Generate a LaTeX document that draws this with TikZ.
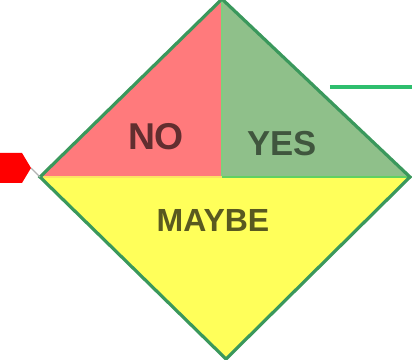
\documentclass[tikz,border=0pt]{standalone}
\usepackage{fontspec}
\setmainfont{Liberation Sans}
\begin{document}
\begin{tikzpicture}[x=0.75pt,y=-0.75pt,
  lbl/.style={font=\bfseries, inner sep=0pt, anchor=center}]
\useasboundingbox (0,0) rectangle (412,360);
\definecolor{nored}{RGB}{255,122,124}
\definecolor{yesgreen}{RGB}{143,192,138}
\definecolor{maybeyel}{RGB}{255,255,90}
\definecolor{edgegreen}{RGB}{58,152,92}
\definecolor{linegreen}{RGB}{46,190,110}
\coordinate (T) at (222,-1);
\coordinate (R) at (410,177);
\coordinate (B) at (226,359);
\coordinate (L) at (40,177);
\coordinate (C) at (222,177);
% regions
\fill[nored] (L) -- (T) -- (C) -- cycle;
\fill[yesgreen] (T) -- (R) -- (C) -- cycle;
\fill[maybeyel] (L) -- (R) -- (B) -- cycle;
\draw[line width=1.5pt, green!45!gray!70!white] (T) -- (C);
\draw[line width=1pt, yellow!70!orange!60!white] (L) -- (C);
\draw[line width=1pt, green!55!gray!80!white] (C) -- (R);
% outline
\draw[edgegreen, line width=2.4pt, line join=miter] (T) -- (R) -- (B) -- (L) -- cycle;
% incoming arrow
\coordinate (A1) at (31,168);
\draw[gray!60, line width=1pt] (A1) -- (L);
\fill[red] (0,153) -- (22,153) -- (A1) -- (22,183) -- (0,183) -- cycle;
% outgoing line
\coordinate (G0) at (330,87);
\coordinate (G1) at (412,87);
\draw[linegreen, line width=3pt] (G0) -- (G1);
% labels
\node[lbl, text=nored!38!black, font=\bfseries\fontsize{28}{30}\selectfont] (no) at (156,137) {NO};
\node[lbl, text=yesgreen!45!black, font=\bfseries\fontsize{26}{30}\selectfont] (yes) at (282,144) {YES};
\node[lbl, text=maybeyel!35!black, font=\bfseries\fontsize{24}{30}\selectfont] (maybe) at (213,220) {MAYBE};
\end{tikzpicture}
\end{document}
